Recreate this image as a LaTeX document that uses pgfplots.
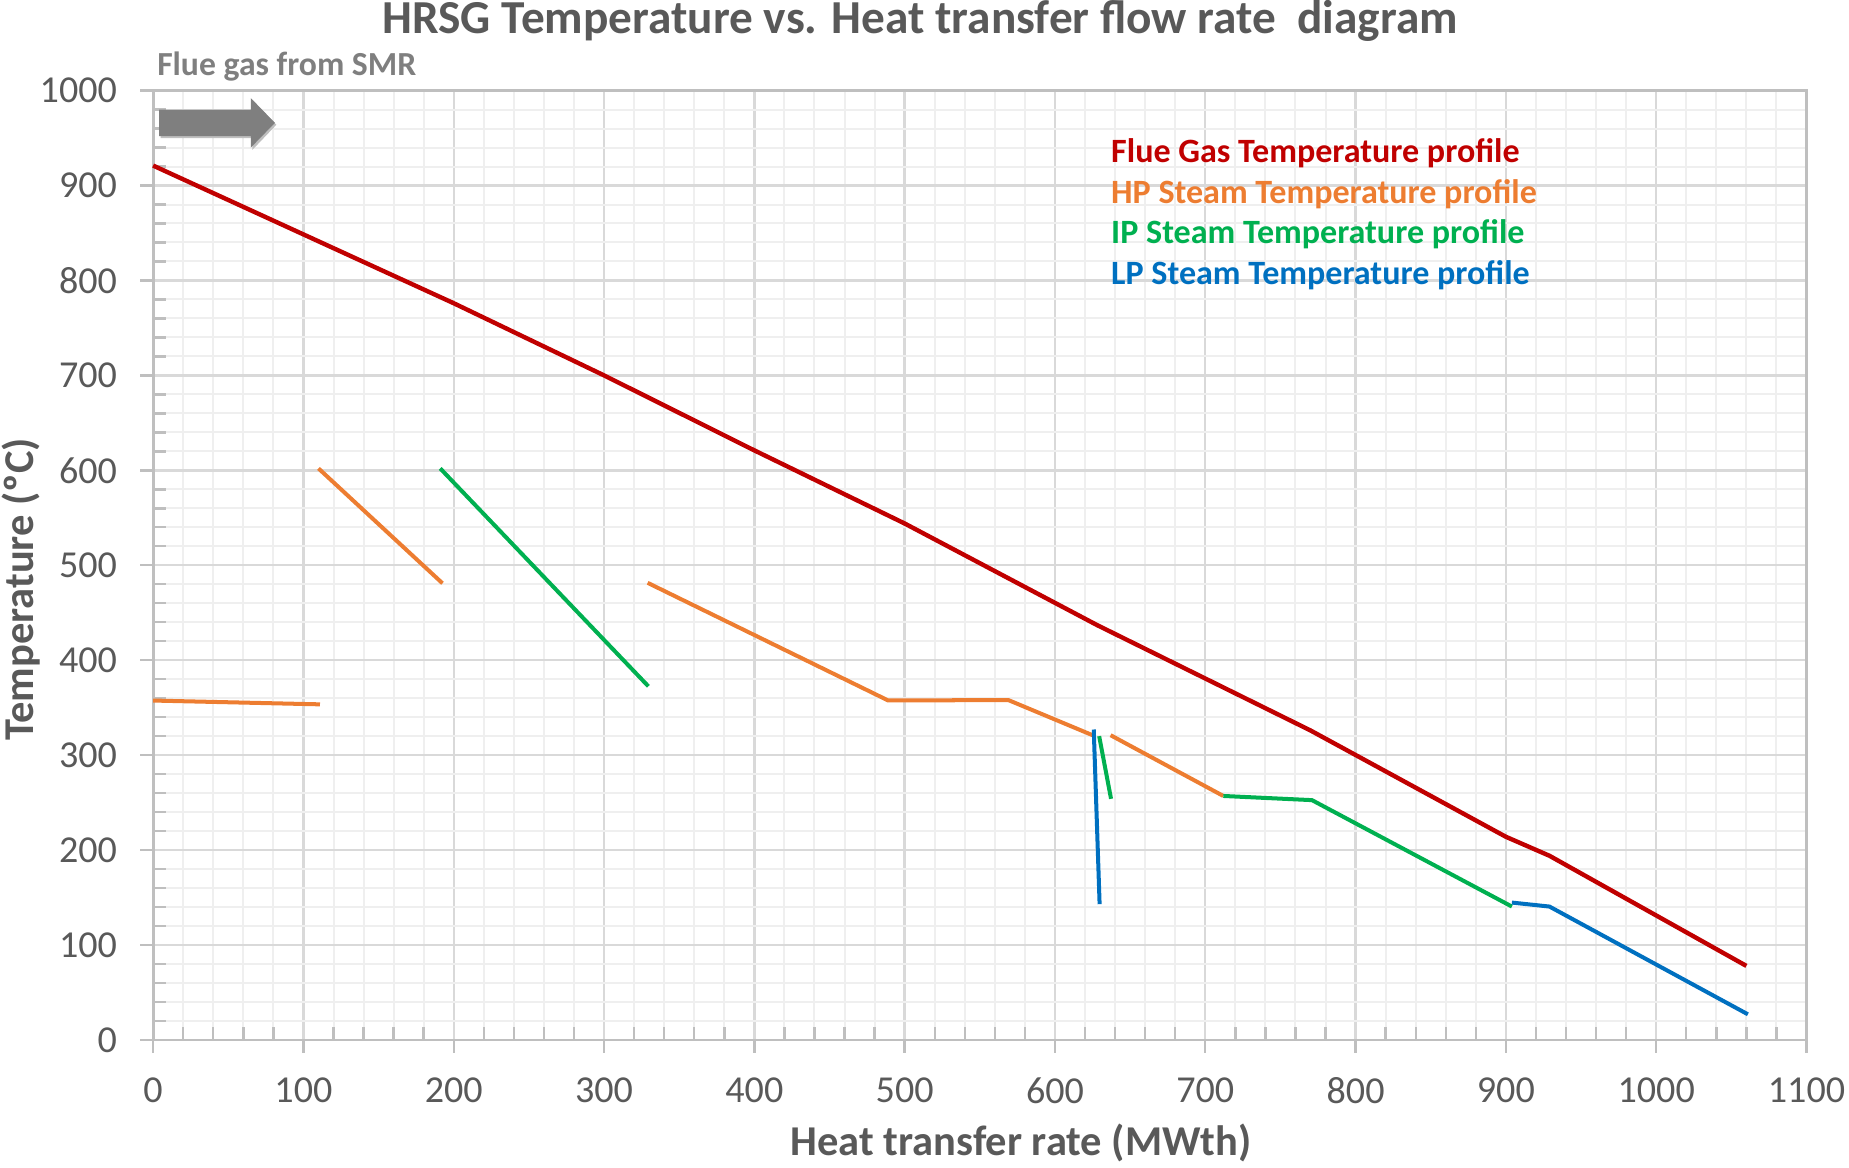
\documentclass[border=0pt]{standalone}
\usepackage{pgfplots}
\pgfplotsset{compat=1.18}
\usepackage{fontspec}
\setmainfont{Carlito}
\definecolor{cRed}{HTML}{C00000}
\definecolor{cOrange}{HTML}{ED7D31}
\definecolor{cGreen}{HTML}{00B050}
\definecolor{cBlue}{HTML}{0070C0}
\definecolor{txt}{HTML}{595959}
\definecolor{gmaj}{HTML}{D9D9D9}
\definecolor{gmin}{HTML}{EFEFEF}
\definecolor{axc}{HTML}{BFBFBF}
\definecolor{arr}{HTML}{7F7F7F}
\begin{document}
\begin{tikzpicture}
\begin{axis}[
  scale only axis, width=412.4pt, height=236.8pt,
  xmin=0, xmax=1100, ymin=0, ymax=1000,
  xtick distance=100, ytick distance=100,
  minor tick num=4,
  grid=both,
  major grid style={gmaj, line width=0.6pt},
  minor grid style={gmin, line width=0.5pt},
  axis line style={axc, line width=0.7pt},
  tick style={axc, line width=0.6pt},
  tick align=inside,
  major tick length=-3.2pt,
  minor tick length=3.2pt,
  xtick pos=bottom, ytick pos=left,
  xticklabel style={font=\fontsize{9.5}{11}\selectfont, text=txt, yshift=-5.8pt},
  yticklabel style={font=\fontsize{9.5}{11}\selectfont, text=txt, xshift=-5.5pt},
  /pgf/number format/assume math mode=true,
  /pgf/number format/1000 sep={},
  xlabel={\textbf{Heat transfer rate (MWth)}},
  ylabel={\textbf{Temperature (ºC)}},
  label style={font=\fontsize{10.6}{13}\selectfont, text=txt},
  xlabel style={at={(axis description cs:0.525,-0.109)}, anchor=center},
  ylabel style={at={(axis description cs:-0.080,0.4745)}, anchor=center},
  clip=false,
]
% Flue gas
\addplot[cRed, line width=1.1pt] coordinates {(0,921) (200,776) (300,700) (400,621) (500,544) (628,437) (770,326) (900,214) (929,194) (1060,78)};
% HP steam
\addplot[cOrange, line width=1pt] coordinates {(0,357.5) (111,353.5)};
\addplot[cOrange, line width=1pt] coordinates {(110,602) (192.5,481)};
\addplot[cOrange, line width=1pt] coordinates {(329,481.5) (489,357.6) (569,358) (625,321)};
\addplot[cOrange, line width=1pt] coordinates {(637,321) (712,257)};
% IP steam
\addplot[cGreen, line width=1pt] coordinates {(191,602) (329.5,372.5)};
\addplot[cGreen, line width=1pt] coordinates {(629.4,320) (637.3,254)};
\addplot[cGreen, line width=1pt] coordinates {(712,257) (771,252.6) (904,140.5)};
% LP steam
\addplot[cBlue, line width=1pt] coordinates {(625.8,327) (629.7,143)};
\addplot[cBlue, line width=1pt] coordinates {(904,144.7) (929,140.5) (1061,27)};
% arrow
\fill[black!25] (axis cs:5,950) -- (axis cs:66,950) -- (axis cs:66,937.5) -- (axis cs:82,964) -- (axis cs:66,990.5) -- (axis cs:66,978) -- (axis cs:5,978) -- cycle;
\fill[arr] (axis cs:4,952) -- (axis cs:65,952) -- (axis cs:65,940) -- (axis cs:81,966) -- (axis cs:65,992) -- (axis cs:65,980) -- (axis cs:4,980) -- cycle;
% texts
\node[anchor=west, text=arr, font=\bfseries\fontsize{8.4}{10}\selectfont, inner sep=0pt] at (rel axis cs:0.002,1.025) {Flue gas from SMR};
\node[anchor=base, text=txt, font=\bfseries\fontsize{11.8}{14}\selectfont, inner sep=0pt] at (rel axis cs:0.464,1.06) {HRSG Temperature vs. Heat transfer flow rate\ \ diagram};
\node[anchor=west, text=cRed, font=\bfseries\fontsize{8.5}{10}\selectfont, inner sep=0pt] at (rel axis cs:0.579,0.934) {Flue Gas Temperature profile};
\node[anchor=west, text=cOrange, font=\bfseries\fontsize{8.5}{10}\selectfont, inner sep=0pt] at (rel axis cs:0.579,0.891) {HP Steam Temperature profile};
\node[anchor=west, text=cGreen, font=\bfseries\fontsize{8.5}{10}\selectfont, inner sep=0pt] at (rel axis cs:0.579,0.849) {IP Steam Temperature profile};
\node[anchor=west, text=cBlue, font=\bfseries\fontsize{8.5}{10}\selectfont, inner sep=0pt] at (rel axis cs:0.579,0.806) {LP Steam Temperature profile};
\coordinate (bl) at (rel axis cs:0,0);
\coordinate (tr) at (rel axis cs:1,1);
\end{axis}
\pgfresetboundingbox
\useasboundingbox ([shift={(-38.2pt,-31.8pt)}]bl) rectangle ([shift={(10.6pt,22.6pt)}]tr);
\end{tikzpicture}
\end{document}
